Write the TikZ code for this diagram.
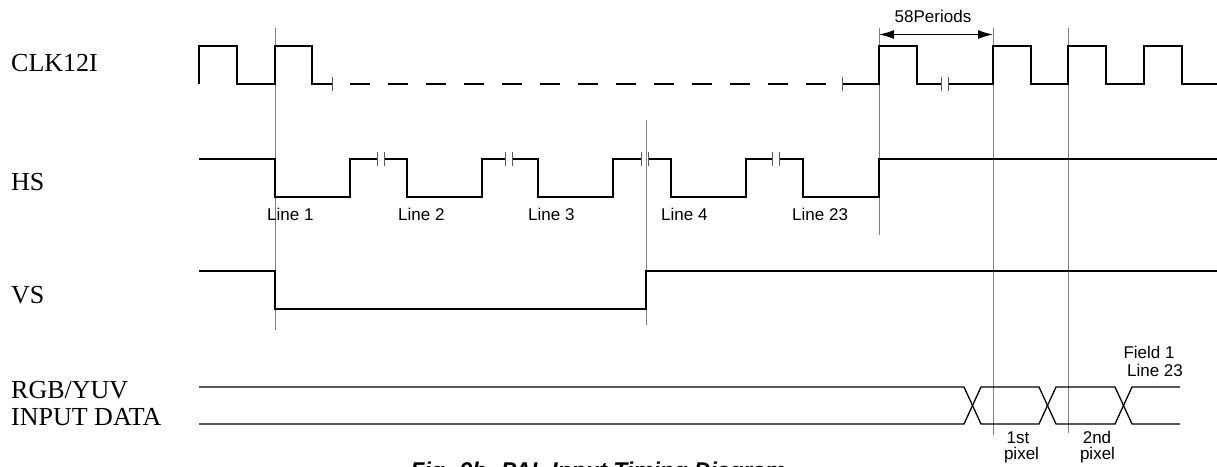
\documentclass[tikz,border=0pt]{standalone}
\usepackage{fontspec}
\setmainfont{Liberation Serif}
\setsansfont{Liberation Sans}
\usetikzlibrary{arrows.meta}

\begin{document}
\begin{tikzpicture}[x=1pt, y=-1pt, >={Latex[length=15pt,width=9pt]},
    sig/.style={line width=2pt, line join=miter},
    bus/.style={line width=1.3pt},
    guide/.style={gray, line width=1pt},
    brk/.style={gray!70!black, line width=1pt},
    signame/.style={anchor=base west, inner sep=0pt, font=\fontsize{26}{25}\selectfont},
    lbl/.style={inner sep=0pt, font=\sffamily\fontsize{17}{18.5}\selectfont}]

\useasboundingbox (0,0) rectangle (1217,466);

% Signal names
\node[signame] (clk) at (11,71.7) {CLK12I};
\node[signame] (hs) at (11,190) {HS};
\node[signame] (vs) at (11,303) {VS};
\node[signame] (rgb) at (11,398.5) {RGB/YUV};
\node[signame] (data) at (11,425) {INPUT DATA};

% Reference lines
\draw[guide] (275,28) -- (275,330);
\draw[guide] (646,120) -- (646,325);
\draw[guide] (879,28) -- (879,235);
\draw[guide] (993,28) -- (993,435);
\draw[guide] (1068,28) -- (1068,433);

% CLK12I
\draw[sig] (199,84) -- (199,46) -- (237,46) -- (237,84) -- (275,84) -- (275,46)
    -- (312,46) -- (312,84) -- (332,84);
\draw[sig, dash pattern=on 20pt off 18pt] (350,84) -- (826,84);
\draw[sig] (842,84) -- (879,84) -- (879,46) -- (917,46) -- (917,84) -- (941,84);
\draw[sig] (948,84) \foreach \t in {993,1068,1144} {
    -- (\t,84) -- (\t,46) -- (\t+37.5,46) -- (\t+37.5,84) } -- (1217,84);
\foreach \t in {332,842,941,948} {
    \draw[brk] (\t,77) -- (\t,91);
}

% 58 periods
\coordinate (p0) at (879,34.5);
\coordinate (p1) at (993,34.5);
\draw[<->, line width=1.3pt] (p0) -- (p1);
\node[lbl, anchor=base] (periods) at (933,22.5) {58Periods};

% HS
\draw[sig] (199,159) \foreach \s/\b in {275/377, 407/505, 538/641, 671/772} {
    -- (\s,159) -- (\s,197) -- (\s+75,197) -- (\s+75,159) -- (\b,159) (\b+7,159) }
    -- (803,159) -- (803,197) -- (879,197) -- (879,159) -- (1217,159);
\foreach \b in {377,505,641,772} {
    \draw[brk] (\b,152) -- (\b,166);
    \draw[brk] (\b+7,152) -- (\b+7,166);
}
\foreach \x/\n in {267/1, 398/2, 528/3, 661/4, 792/23} {
    \node[lbl, anchor=base west] (line\n) at (\x,220) {Line \n};
}

% VS
\draw[sig] (199,271) -- (275,271) -- (275,309) -- (646,309) -- (646,271) -- (1217,271);

% RGB/YUV input data
\draw[bus] (199,387) -- (964,387) -- (981,424) -- (1039,424) -- (1056,387)
    -- (1115,387) -- (1132,424) -- (1180,424);
\draw[bus] (199,424) -- (964,424) -- (981,387) -- (1039,387) -- (1056,424)
    -- (1115,424) -- (1132,387) -- (1180,387);
\node[lbl, anchor=base] (field) at (1149,358) {Field 1};
\node[lbl, anchor=base] (fline) at (1155,376.5) {Line 23};
\node[lbl, anchor=base] (first) at (1018,443) {1st};
\node[lbl, anchor=base] (firstpx) at (1021.5,459) {pixel};
\node[lbl, anchor=base] (second) at (1097,443) {2nd};
\node[lbl, anchor=base] (secondpx) at (1097.5,459) {pixel};

% Caption
\node[inner sep=0pt, anchor=base, font=\sffamily\bfseries\itshape\fontsize{22.8}{26}\selectfont]
    (caption) at (598,478) {Fig. 9b. PAL Input Timing Diagram};

\end{tikzpicture}
\end{document}
